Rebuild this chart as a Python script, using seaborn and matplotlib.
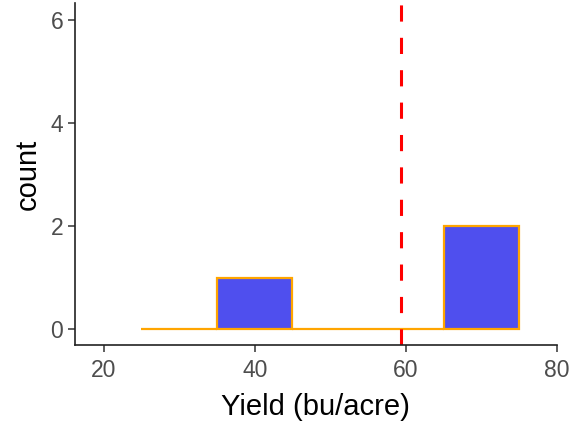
import matplotlib
matplotlib.use("Agg")
import matplotlib.pyplot as plt
import seaborn as sns
import numpy as np
import pandas as pd

# Data
yields = [40.0, 68.0, 70.0]
bin_range = (25, 75)
bin_width = 10
mean_yield = float(np.mean(yields))
x_ticks = [20, 40, 60, 80]
y_ticks = [0, 2, 4, 6]

df = pd.DataFrame({"Yield": yields})

sns.set_theme(style="ticks")
plt.rcParams['font.family'] = ['Liberation Sans', 'DejaVu Sans']

fig = plt.figure(figsize=(5.77, 4.28), dpi=100)
ax = fig.add_axes([0.13, 0.194, 0.835, 0.799])

sns.histplot(data=df, x="Yield", binwidth=bin_width, binrange=bin_range,
             color="#4F4FEE", alpha=1.0, edgecolor="#FFA500", linewidth=1.6,
             ax=ax)
ax.axvline(mean_yield, color="#FF0000", linewidth=2.2, dashes=(5.3, 5.3))

ax.set_xlim(16.2, 80)
ax.set_ylim(-0.31, 6.33)
ax.set_xticks(x_ticks)
ax.set_yticks(y_ticks)
ax.set_xlabel("Yield (bu/acre)", fontsize=21, color="black", labelpad=8)
ax.set_ylabel("count", fontsize=21, color="black", labelpad=6)
ax.tick_params(axis="both", labelsize=16.5, labelcolor="#4D4D4D", color="#333333",
               length=5, width=1.1)
ax.tick_params(axis="x", pad=5)
for s in ["top", "right"]:
    ax.spines[s].set_visible(False)
for s in ["left", "bottom"]:
    ax.spines[s].set_color("#222222")
    ax.spines[s].set_linewidth(1.2)

fig.savefig("out.png", dpi=100)
